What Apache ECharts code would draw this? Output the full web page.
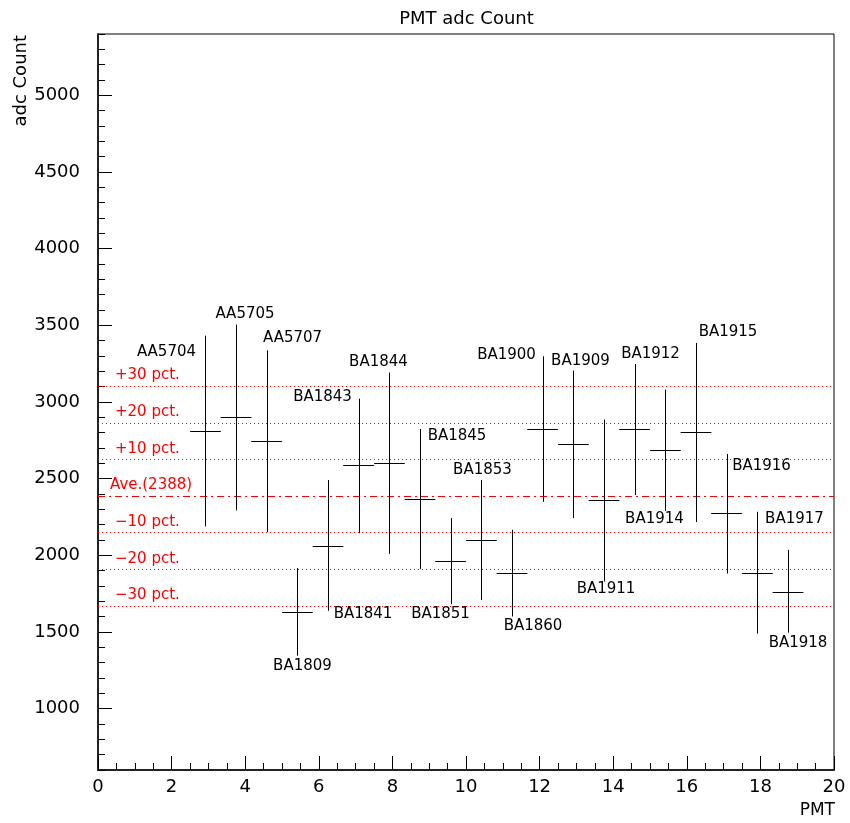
<!DOCTYPE html>
<html>
<head>
<meta charset="utf-8">
<script src="https://cdn.jsdelivr.net/npm/echarts@6/dist/echarts.min.js"></script>
<style>html,body{margin:0;padding:0;background:#fff;}#c{width:850px;height:823px;}</style>
</head>
<body>
<div id="c"></div>
<script>
const pmtNames = ['AA5704','AA5705','AA5707','BA1809','BA1841','BA1843','BA1844','BA1845','BA1851','BA1853',
  'BA1860','BA1900','BA1909','BA1911','BA1912','BA1914','BA1915','BA1916','BA1917','BA1918'];
const xPos = [2.92, 3.75, 4.58, 5.42, 6.25, 7.08, 7.92, 8.75, 9.58, 10.42,
  11.25, 12.08, 12.92, 13.75, 14.58, 15.42, 16.25, 17.08, 17.92, 18.75];
const xHalfWidth = 0.417;
const adcMean = [2808, 2900, 2746, 1629, 2062, 2586, 2602, 2367, 1964, 2101,
  1884, 2824, 2726, 2358, 2824, 2684, 2802, 2273, 1886, 1764];
const adcHigh = [3433, 3505, 3337, 1917, 2491, 3022, 3192, 2824, 2243, 2491,
  2167, 3298, 3205, 2885, 3248, 3081, 3385, 2661, 2284, 2036];
const adcLow = [2188, 2293, 2152, 1346, 1638, 2145, 2010, 1910, 1681, 1708,
  1601, 2349, 2243, 1829, 2393, 2289, 2217, 1881, 1490, 1496];
const refValues = [3104, 2866, 2627, 2388, 2149, 1910, 1672];
const refLabels = ['+30 pct.', '+20 pct.', '+10 pct.', 'Ave.(2388)', '\u221210 pct.', '\u221220 pct.', '\u221230 pct.'];
const yMajorTicks = [1000, 1500, 2000, 2500, 3000, 3500, 4000, 4500, 5000];

// label placement (style): which end of the error bar, and pixel offset of label centre
const labelAnchor = ['hi','hi','hi','lo','lo','hi','hi','hi','lo','hi','lo','hi','hi','lo','hi','lo','hi','hi','hi','lo'];
const labelOffset = [[-39,17],[9,-10],[26,-12],[5,10],[35,3],[-36,-2],[-11,-10],[37,7],[-10,10],[1,-10],
  [21,10],[-36,-1],[7,-9],[2,8],[16,-10],[-11,8],[32,-11],[35,12],[37,7],[10,10]];

const FONT = '"DejaVu Sans", "Liberation Sans", sans-serif';
const chart = echarts.init(document.getElementById('c'), null, {renderer: 'canvas'});

const pointData = xPos.map((x, i) => [x, adcMean[i], adcLow[i], adcHigh[i], i]);
const refData = refValues.map((v, i) => [v, i]);

function crisp(v) { return Math.round(v) + 0.5; }
const plainNum = v => String(v);

const option = {
  animation: false,
  backgroundColor: '#fff',
  grid: {left: 98, right: 16, top: 34, bottom: 53, show: true, borderColor: '#000', borderWidth: 1, backgroundColor: 'transparent'},
  xAxis: [{
    type: 'value', min: 0, max: 20, interval: 2, position: 'bottom',
    axisLine: {show: true, onZero: false, lineStyle: {color: '#222', width: 2}},
    axisTick: {show: true, inside: true, length: 14, lineStyle: {color: '#000', width: 1}},
    axisLabel: {show: true, margin: 8, color: '#000', fontFamily: FONT, fontSize: 18, formatter: plainNum},
    splitLine: {show: false}
  }, {
    type: 'value', min: 0, max: 20, interval: 0.5, position: 'bottom', offset: 0,
    axisLine: {show: false, onZero: false},
    axisTick: {show: true, inside: true, length: 7, lineStyle: {color: '#000', width: 1}},
    axisLabel: {show: false},
    splitLine: {show: false}
  }],
  yAxis: [{
    type: 'value', min: 600, max: 5400, interval: 100, position: 'left',
    axisLine: {show: true, onZero: false, lineStyle: {color: '#222', width: 2}},
    axisTick: {show: true, inside: true, length: 7, lineStyle: {color: '#000', width: 1}},
    axisLabel: {show: false},
    splitLine: {show: false}
  }, {
    type: 'value', min: 600, max: 5400, position: 'left',
    axisLine: {show: false},
    axisTick: {show: true, inside: true, length: 14, customValues: yMajorTicks, lineStyle: {color: '#000', width: 1}},
    axisLabel: {show: true, margin: 18, customValues: yMajorTicks, color: '#000', fontFamily: FONT, fontSize: 18, formatter: plainNum},
    splitLine: {show: false}
  }],
  graphic: [
    {type: 'text', x: 466.5, y: 19, style: {text: 'PMT adc Count', fill: '#000', font: '18px ' + FONT, textAlign: 'center', textVerticalAlign: 'middle', align: 'center', verticalAlign: 'middle'}},
    {type: 'text', x: 835, y: 811, style: {text: 'PMT', fill: '#000', font: '17px ' + FONT, textAlign: 'right', textVerticalAlign: 'middle', align: 'right', verticalAlign: 'middle'}},
    {type: 'text', x: 21, y: 35, rotation: Math.PI / 2, style: {text: 'adc Count', fill: '#000', font: '18px ' + FONT, textAlign: 'right', textVerticalAlign: 'middle', align: 'right', verticalAlign: 'middle'}}
  ],
  series: [{
    type: 'custom', name: 'ref', xAxisIndex: 0, yAxisIndex: 0, silent: true, clip: true,
    data: refData,
    encode: {y: 0},
    renderItem: function (params, api) {
      const v = api.value(0), i = api.value(1);
      const p0 = api.coord([0, v]), p1 = api.coord([20, v]);
      const isAve = i === 3;
      const y = crisp(p0[1]);
      return {type: 'group', children: [
        {type: 'line', shape: {x1: p0[0], y1: y, x2: p1[0], y2: y},
          style: {stroke: '#ff0000', lineWidth: 1, lineDash: isAve ? [7, 4, 2, 4] : [1, 3]}},
        {type: 'text', x: p0[0] + (isAve ? 12 : 17), y: p0[1] - 10.5,
          style: {text: refLabels[i], fill: '#ff0000', font: '15px ' + FONT, textAlign: 'left', textVerticalAlign: 'middle', align: 'left', verticalAlign: 'middle'}}
      ]};
    }
  }, {
    type: 'custom', name: 'pmt', xAxisIndex: 0, yAxisIndex: 0, silent: true, clip: false,
    data: pointData,
    encode: {x: 0, y: 1},
    renderItem: function (params, api) {
      const x = api.value(0), m = api.value(1), lo = api.value(2), hi = api.value(3), i = api.value(4);
      const pc = api.coord([x, m]);
      const pl = api.coord([x - xHalfWidth, m]);
      const pr = api.coord([x + xHalfWidth, m]);
      const pHi = api.coord([x, hi]);
      const pLo = api.coord([x, lo]);
      const xv = crisp(pc[0]), yh = crisp(pc[1]);
      const anchor = labelAnchor[i] === 'hi' ? pHi : pLo;
      const off = labelOffset[i];
      return {type: 'group', children: [
        {type: 'line', shape: {x1: xv, y1: pLo[1], x2: xv, y2: pHi[1]}, style: {stroke: '#000', lineWidth: 1}},
        {type: 'line', shape: {x1: pl[0], y1: yh, x2: pr[0], y2: yh}, style: {stroke: '#000', lineWidth: 1}},
        {type: 'text', x: pc[0] + off[0], y: anchor[1] + off[1],
          style: {text: pmtNames[i], fill: '#000', font: '15px ' + FONT, textAlign: 'center', textVerticalAlign: 'middle', align: 'center', verticalAlign: 'middle'}}
      ]};
    }
  }]
};
chart.setOption(option);
</script>
</body>
</html>
